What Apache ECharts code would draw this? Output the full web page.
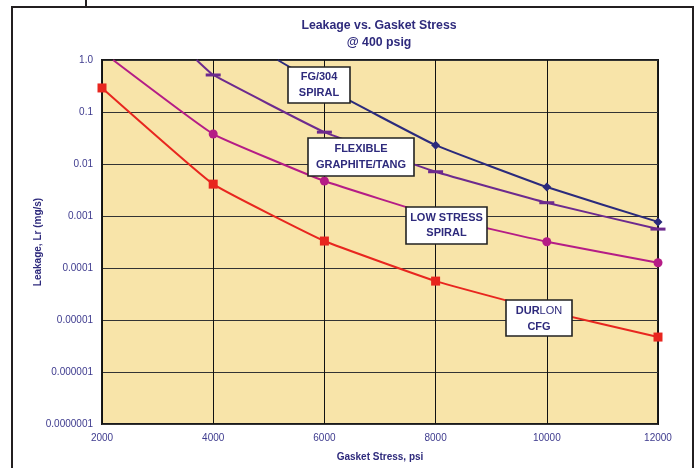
<!DOCTYPE html>
<html>
<head>
<meta charset="utf-8">
<script src="https://cdn.jsdelivr.net/npm/echarts@6/dist/echarts.min.js"></script>
<style>
html,body{margin:0;padding:0;background:#fff;}
#chart{width:697px;height:468px;}
</style>
</head>
<body>
<div id="chart"></div>
<script>
// ---- data ----
var xTicks = [2000, 4000, 6000, 8000, 10000, 12000];
var yTickLabels = ['0.0000001', '0.000001', '0.00001', '0.0001', '0.001', '0.01', '0.1', '1.0'];

// FG/304 SPIRAL (enters the top of the plot at ~5160 psi)
var fgStress  = [5160, 6000, 8000, 10000, 12000];
var fgLeak    = [1.0, 0.30, 0.023, 0.0036, 0.00077];

// FLEXIBLE GRAPHITE/TANG (enters top at ~3700 psi)
var flexStress = [3700, 4000, 6000, 8000, 10000, 12000];
var flexLeak   = [1.0, 0.515, 0.041, 0.0071, 0.0018, 0.00056];

// LOW STRESS SPIRAL (enters top at ~2200 psi)
var lowStress = [2200, 4000, 6000, 8000, 10000, 12000];
var lowLeak   = [1.0, 0.0377, 0.0047, 0.001, 0.00032, 0.000126];

// DURLON CFG
var durStress = [2000, 4000, 6000, 8000, 10000, 12000];
var durLeak   = [0.29, 0.0041, 0.00033, 0.000056, 0.0000148, 0.0000047];

function pairs(xs, ys, firstHidden) {
  return xs.map(function (x, i) {
    var item = { value: [x, ys[i]] };
    if (firstHidden && i === 0) item.symbol = 'none';
    return item;
  });
}

var navy = '#2b2a7c', purple = '#6d2a8e', magenta = '#b51c86', red = '#e8261f';
var labelColor = '#3e3b8e', titleColor = '#2e2a7c';
var FONT = '"Liberation Sans", Arial, sans-serif';

var chart = echarts.init(document.getElementById('chart'), null, {renderer: 'canvas'});

function box(x, y, w, h, lines) {
  var els = [{
    type: 'rect', z: 100, shape: {x: x, y: y, width: w, height: h},
    style: {fill: '#fff', stroke: '#222', lineWidth: 1.6}
  }];
  lines.forEach(function (ln) {
    els.push({
      type: 'text', z: 101,
      style: {
        x: x + w / 2, y: ln.y, text: ln.t, rich: ln.rich,
        fill: titleColor, font: 'bold 11px ' + FONT,
        align: 'center', verticalAlign: 'middle'
      }
    });
  });
  return els;
}

var graphics = [
  // outer frame
  {type: 'polyline', z: 50, shape: {points: [[12, 468], [12, 7], [693, 7], [693, 468]]}, style: {stroke: '#231f20', lineWidth: 2, fill: null}},
  {type: 'line', z: 50, shape: {x1: 86, y1: 0, x2: 86, y2: 7}, style: {stroke: '#231f20', lineWidth: 2}},
  // title
  {type: 'text', z: 50, x: 379, y: 25.5, style: {text: 'Leakage vs. Gasket Stress', fill: titleColor, font: 'bold 12.3px ' + FONT, align: 'center', verticalAlign: 'middle'}},
  {type: 'text', z: 50, x: 379, y: 42.5, style: {text: '@ 400 psig', fill: titleColor, font: 'bold 12.3px ' + FONT, align: 'center', verticalAlign: 'middle'}},
  // axis names
  {type: 'text', z: 50, x: 380, y: 457, style: {text: 'Gasket Stress, psi', fill: titleColor, font: 'bold 10px ' + FONT, align: 'center', verticalAlign: 'middle'}},
  {type: 'text', z: 50, x: 38, y: 242, rotation: Math.PI / 2, style: {text: 'Leakage, Lr (mg/s)', fill: titleColor, font: 'bold 10px ' + FONT, align: 'center', verticalAlign: 'middle'}}
].concat(
  box(288, 67, 62, 36, [{t: 'FG/304', y: 77}, {t: 'SPIRAL', y: 93}]),
  box(308, 138, 106, 38, [{t: 'FLEXIBLE', y: 149}, {t: 'GRAPHITE/TANG', y: 165}]),
  box(406, 207, 81, 37, [{t: 'LOW STRESS', y: 218}, {t: 'SPIRAL', y: 233}]),
  box(506, 300, 66, 36, [
    {t: '{b|DUR}{n|LON}', y: 311, rich: {
      b: {fontWeight: 'bold', fontSize: 11, fill: titleColor, fontFamily: FONT},
      n: {fontWeight: 'normal', fontSize: 11, fill: titleColor, fontFamily: FONT}
    }},
    {t: 'CFG', y: 327}
  ])
);

var option = {
  animation: false,
  backgroundColor: '#fff',
  grid: {
    left: 102, top: 60, right: 39, bottom: 44,
    show: true, backgroundColor: '#f8e4a9', borderColor: '#1a1a1a', borderWidth: 2
  },
  xAxis: {
    type: 'value', min: 2000, max: 12000, interval: 2000,
    axisLine: {show: false}, axisTick: {show: false},
    axisLabel: {color: labelColor, fontSize: 10, margin: 9, fontFamily: FONT,
      formatter: function (v) { return String(v); }},
    splitLine: {show: true, lineStyle: {color: '#111', width: 1}}
  },
  yAxis: {
    type: 'log', logBase: 10, min: 1e-7, max: 1,
    axisLine: {show: false}, axisTick: {show: false},
    axisLabel: {
      color: labelColor, fontSize: 10, margin: 9, fontFamily: FONT,
      formatter: function (v) {
        var k = Math.round(Math.log(v) / Math.LN10) + 7;
        return yTickLabels[k];
      }
    },
    splitLine: {show: true, lineStyle: {color: '#333', width: 1}}
  },
  series: [
    {
      name: 'DURLON CFG', type: 'line', data: pairs(durStress, durLeak, false),
      symbol: 'rect', symbolSize: 9, smooth: 0.1,
      lineStyle: {color: red, width: 2}, itemStyle: {color: red}, clip: true, z: 5
    },
    {
      name: 'LOW STRESS SPIRAL', type: 'line', data: pairs(lowStress, lowLeak, true),
      symbol: 'circle', symbolSize: 9, smooth: 0.1,
      lineStyle: {color: magenta, width: 2}, itemStyle: {color: magenta}, clip: true, z: 4
    },
    {
      name: 'FLEXIBLE GRAPHITE/TANG', type: 'line', data: pairs(flexStress, flexLeak, true),
      symbol: 'rect', symbolSize: [15, 3], smooth: 0.1,
      lineStyle: {color: purple, width: 2}, itemStyle: {color: purple}, clip: true, z: 3
    },
    {
      name: 'FG/304 SPIRAL', type: 'line', data: pairs(fgStress, fgLeak, true),
      symbol: 'diamond', symbolSize: 9, smooth: 0.1,
      lineStyle: {color: navy, width: 2}, itemStyle: {color: navy}, clip: true, z: 3
    }
  ],
  graphic: {elements: graphics}
};
chart.setOption(option);
</script>
</body>
</html>
